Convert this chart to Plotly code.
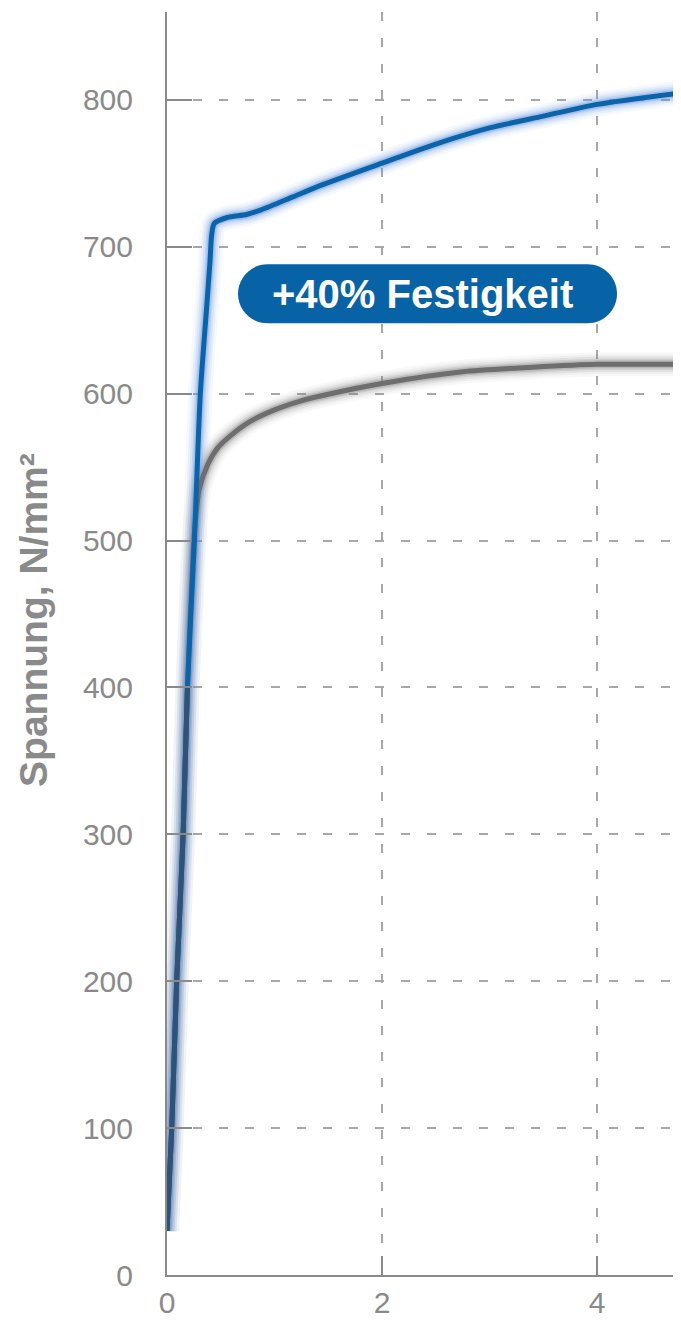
import plotly.graph_objects as go

# Data (strain %, stress N/mm²)
blue_x = [0.0, 0.044, 0.09, 0.15, 0.19, 0.255, 0.31, 0.37, 0.40, 0.415, 0.44, 0.56, 0.74, 0.87, 1.17, 1.40, 2.0, 2.5, 3.0, 3.5, 4.0, 4.8]
blue_y = [30, 100, 200, 300, 400, 500, 600, 660, 690, 708, 716, 720, 722, 725, 734, 741, 757, 770, 781, 789, 797, 805]

gray_x = [0.0, 0.044, 0.09, 0.15, 0.19, 0.245, 0.27, 0.30, 0.38, 0.47, 0.60, 0.77, 1.0, 1.24, 1.52, 2.0, 2.75, 3.4, 4.0, 4.8]
gray_y = [30, 100, 200, 300, 400, 495, 518, 535, 552, 563, 572, 581, 589, 595, 600, 607, 615, 618, 620, 620]

x_ticks = [0, 2, 4]
y_ticks = [0, 100, 200, 300, 400, 500, 600, 700, 800]

y_title = "Spannung, N/mm²"
badge_text = "+40% Festigkeit"

BLUE = "#0b63aa"
BLUE_GLOW = "#5a8fdc"
GRAY = "#6e6e6e"
GRAY_GLOW = "#808080"
OVERLAP = "#3a4f6a"
AXIS = "#8a8a8a"
GRID = "#a8a8a8"
TXT = "#8a8a8a"
FONT = "Liberation Sans, Arial, sans-serif"

fig = go.Figure()

def add_glow(xs, ys, glow):
    for w, op in [(24, 0.05), (19, 0.08), (15, 0.12), (11, 0.18), (8, 0.28)]:
        fig.add_trace(go.Scatter(x=xs, y=ys, mode="lines",
                                 line=dict(color=glow, width=w, shape="spline", smoothing=0.7),
                                 opacity=op, hoverinfo="skip", showlegend=False))

add_glow(gray_x, gray_y, GRAY_GLOW)
add_glow(blue_x, blue_y, BLUE_GLOW)

fig.add_trace(go.Scatter(x=gray_x, y=gray_y, mode="lines",
                         line=dict(color=GRAY, width=5, shape="spline", smoothing=0.7),
                         showlegend=False, hoverinfo="skip"))
fig.add_trace(go.Scatter(x=blue_x, y=blue_y, mode="lines",
                         line=dict(color=BLUE, width=5, shape="spline", smoothing=0.7),
                         showlegend=False, hoverinfo="skip"))
# overlapping elastic part of both curves
n_el = 5
fig.add_trace(go.Scatter(x=gray_x[:n_el], y=gray_y[:n_el], mode="lines",
                         line=dict(color=OVERLAP, width=5, shape="spline", smoothing=0.7),
                         opacity=0.8, showlegend=False, hoverinfo="skip"))

# badge (pill) centred at a data anchor
ax, ay = 2.423, 668
hw, hh = 189.5, 29.5
r = hh
k = 0.5523 * r
s = hw - r
path = (f"M{-s},{hh} L{s},{hh} C{s+k},{hh} {hw},{k} {hw},0 C{hw},{-k} {s+k},{-hh} {s},{-hh} "
        f"L{-s},{-hh} C{-s-k},{-hh} {-hw},{-k} {-hw},0 C{-hw},{k} {-s-k},{hh} {-s},{hh} Z")
fig.add_shape(type="path", xref="x", yref="y", xsizemode="pixel", ysizemode="pixel",
              xanchor=ax, yanchor=ay, path=path, fillcolor="#0762a6", line=dict(width=0), layer="above")
fig.add_annotation(x=ax, y=ay, xref="x", yref="y", text=f"<b>{badge_text}</b>", showarrow=False,
                   xanchor="center", yanchor="middle", xshift=-5,
                   font=dict(family=FONT, size=40, color="white"))

# y-axis title
fig.add_annotation(x=0, y=446, xref="paper", yref="y", text=f"<b>{y_title}</b>", showarrow=False,
                   textangle=-90, xanchor="center", yanchor="middle", xshift=-133,
                   font=dict(family=FONT, size=39, color=TXT))

# page body has an 8px margin: size the figure so the plot lands where the reference has it
fig.update_layout(
    width=673, height=1315,
    margin=dict(l=159, r=0, t=4, b=48),
    plot_bgcolor="white", paper_bgcolor="white",
    font=dict(family=FONT, color=TXT),
    showlegend=False,
)
fig.update_xaxes(range=[0, 4.781], tickvals=x_ticks, ticktext=[str(v) for v in x_ticks],
                 showline=True, linecolor=AXIS, linewidth=2,
                 ticks="inside", ticklen=19, tickwidth=2, tickcolor=AXIS,
                 showgrid=True, gridcolor=GRID, gridwidth=2, griddash="9px,17px",
                 zeroline=False, tickfont=dict(size=30, color=TXT), ticklabelstandoff=0)
fig.update_yaxes(range=[0, 859.9], tickvals=y_ticks, ticktext=[str(v) for v in y_ticks],
                 showline=True, linecolor=AXIS, linewidth=2,
                 ticks="inside", ticklen=25, tickwidth=2, tickcolor=AXIS,
                 showgrid=True, gridcolor=GRID, gridwidth=2, griddash="9px,17px",
                 zeroline=False, tickfont=dict(size=30, color=TXT), ticklabelstandoff=26)

fig.write_html("out.html", config={"responsive": False})
